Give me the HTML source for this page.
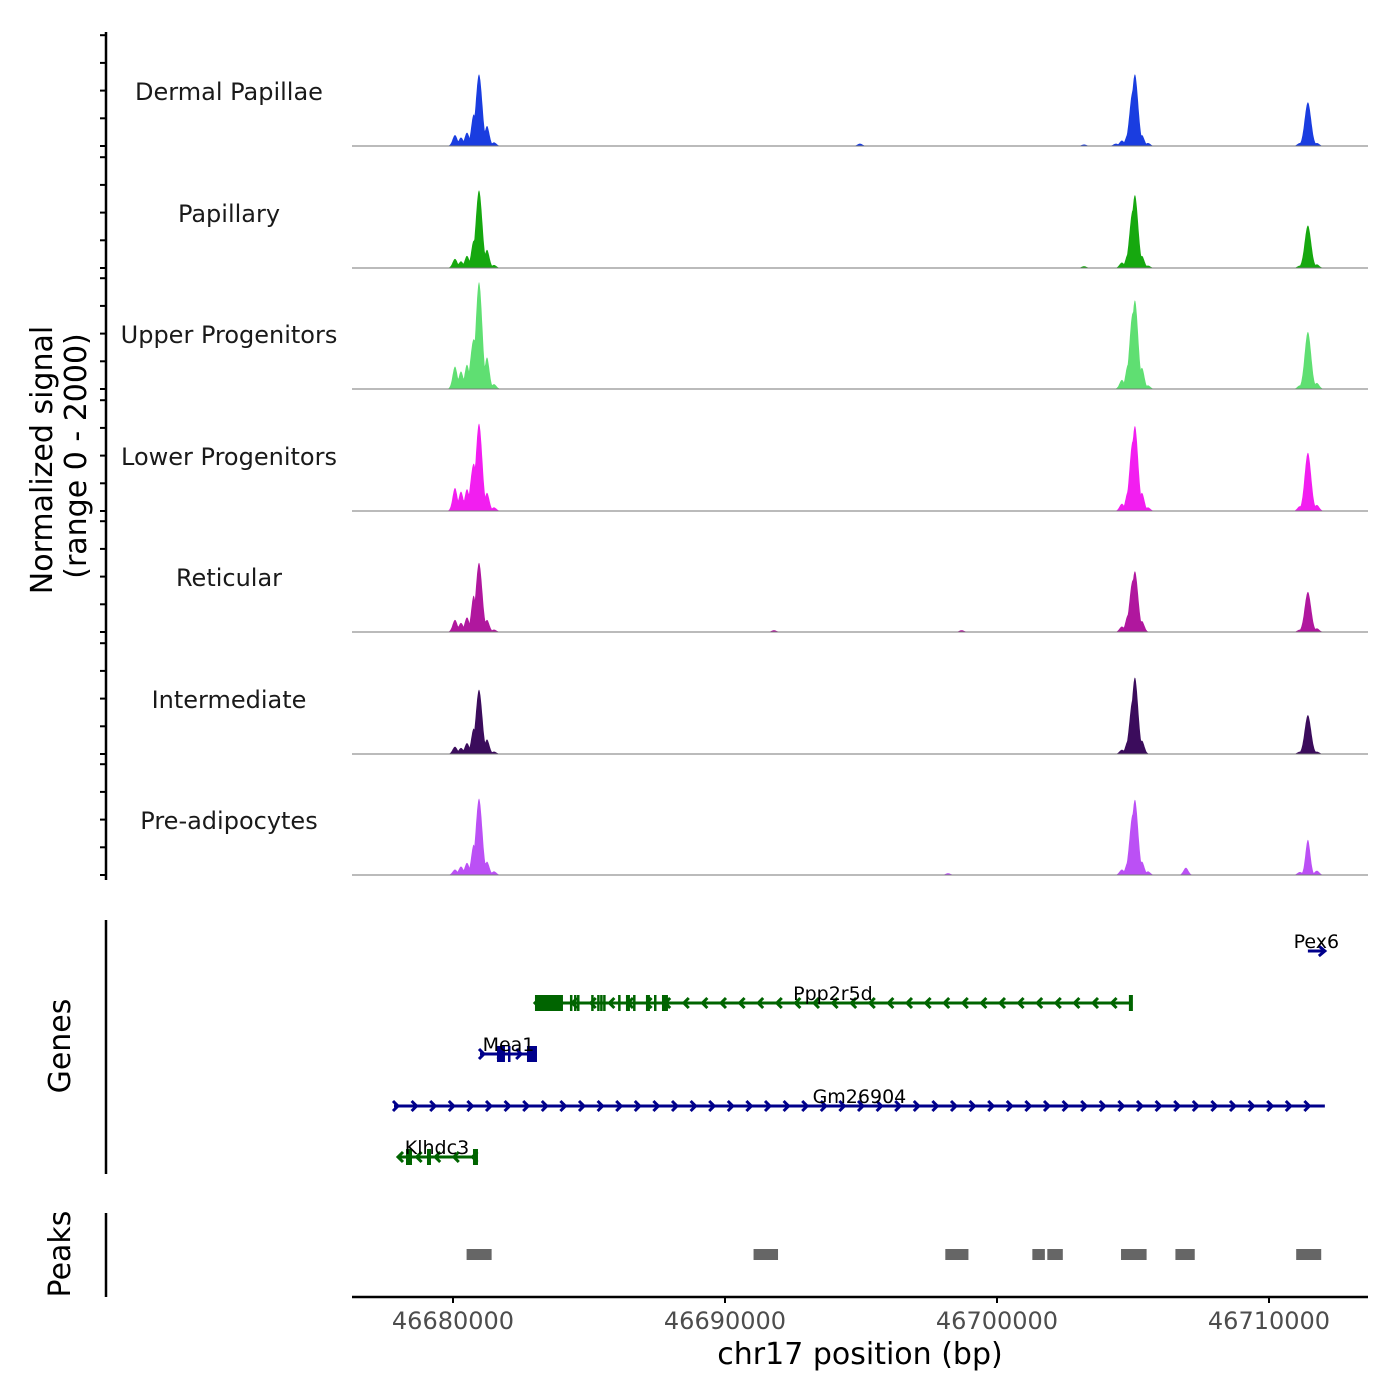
<!DOCTYPE html>
<html><head><meta charset="utf-8"><style>
html,body{margin:0;padding:0;background:#fff;}
svg{display:block;font-family:"DejaVu Sans","Liberation Sans",sans-serif;}
</style></head><body>
<svg id="chart" width="1400" height="1400" viewBox="0 0 1400 1400" xmlns="http://www.w3.org/2000/svg">
<g id="tracks"></g>
<g id="genes"></g>
<g id="peaks"></g>
<g id="axes"></g>
</svg>
<script>
// ---- data ----
const trackNames = ["Dermal Papillae","Papillary","Upper Progenitors","Lower Progenitors","Reticular","Intermediate","Pre-adipocytes"];
const trackColors = ["#1a3de0","#16a80f","#5fdf72","#f21ef0","#b0179e","#3b0c5c","#bb50f5"];
// spikes: [position bp, normalized signal]
const dermalPapillae = [[46680074,180],[46680294,140],[46680515,220],[46680760,520],[46680956,1180],[46681250,330],[46681507,60],[46694961,40],[46703200,25],[46704372,40],[46704593,90],[46704813,200],[46704990,900],[46705070,1180],[46705328,180],[46705548,50],[46711136,50],[46711430,720],[46711760,50]];
const papillary = [[46680074,150],[46680294,110],[46680515,200],[46680760,450],[46680956,1280],[46681250,300],[46681507,50],[46703200,30],[46704593,90],[46704813,230],[46704990,950],[46705070,1200],[46705328,200],[46705548,40],[46711136,40],[46711430,700],[46711760,60]];
const upperProgenitors = [[46680074,370],[46680294,290],[46680515,400],[46680760,820],[46680956,1760],[46681250,520],[46681507,80],[46704593,150],[46704813,400],[46704990,1250],[46705070,1460],[46705328,350],[46705548,60],[46711136,60],[46711430,940],[46711760,100]];
const lowerProgenitors = [[46680074,380],[46680294,320],[46680515,360],[46680760,780],[46680956,1440],[46681250,300],[46681507,60],[46704593,120],[46704813,320],[46704990,1150],[46705070,1400],[46705328,300],[46705548,60],[46711136,80],[46711430,960],[46711760,100]];
const reticular = [[46680074,200],[46680294,150],[46680515,240],[46680760,600],[46680956,1140],[46681250,200],[46681507,40],[46691800,30],[46698700,30],[46704593,90],[46704813,280],[46704990,850],[46705070,1000],[46705328,180],[46711136,40],[46711430,660],[46711760,60]];
const intermediate = [[46680074,120],[46680294,100],[46680515,180],[46680760,420],[46680956,1060],[46681250,240],[46681507,40],[46704593,70],[46704813,220],[46704990,900],[46705070,1260],[46705328,220],[46711136,40],[46711430,640],[46711760,40]];
const preAdipocytes = [[46680074,90],[46680294,140],[46680515,200],[46680760,500],[46680956,1260],[46681250,220],[46681507,60],[46698200,30],[46704593,90],[46704813,220],[46704990,1000],[46705070,1240],[46705328,220],[46705548,60],[46706945,120],[46711136,50],[46711430,580],[46711760,70]];
const trackData = [dermalPapillae,papillary,upperProgenitors,lowerProgenitors,reticular,intermediate,preAdipocytes];
const xTicks = [46680000,46690000,46700000,46710000];
const xTickLabels = ["46680000","46690000","46700000","46710000"];
const peakStarts = [46680500,46691050,46698100,46701300,46701850,46704560,46706560,46711000];
const peakEnds   = [46681420,46691950,46698950,46701760,46702420,46705500,46707270,46711920];
// genes
const geneNames = ["Pex6","Ppp2r5d","Mea1","Gm26904","Klhdc3"];
const geneStarts = [46711430,46683014,46680992,46677831,46677978];
const geneEnds = [46712054,46704923,46683088,46712054,46680845];
const geneStrand = [1,-1,1,1,-1];
const geneRows = [0,1,2,3,4];
const geneExons = [
  [],
  [[46683014,46684043],[46684300,46684370],[46684450,46684520],[46684560,46684630],[46685080,46685140],[46685300,46685360],[46685410,46685470],[46685520,46685580],[46686070,46686140],[46686359,46686506],[46686620,46686690],[46687094,46687241],[46687390,46687460],[46687683,46687903]],
  [[46681617,46681911],[46682022,46682095],[46682720,46683088]],
  [],
  [[46678272,46678493],[46679044,46679191],[46680735,46680845]]
];
const geneColors = {"1":"#00008b","-1":"#006400"};

// ---- scales ----
const X0=352, X1=1368, BP0=46676287, BP1=46713640;
function xs(bp){return X0+(bp-BP0)/(BP1-BP0)*(X1-X0);}
const baselines=[146,268,389,511,632,754,875];
const TH=121.5;
function ys(v,i){return baselines[i]-v/2000*TH;}
const NS="http://www.w3.org/2000/svg";
function mk(tag,attrs,parent){const e=document.createElementNS(NS,tag);for(const k in attrs)e.setAttribute(k,attrs[k]);parent.appendChild(e);return e;}

const gT=document.getElementById('tracks');
trackData.forEach((spikes,i)=>{
  const g=mk('g',{},gT);
  
  
  const step=20, pts=[];
  for(let bp=BP0;bp<=46712300;bp+=step){
    let v=5;
    spikes.forEach(([c,h])=>{const sig=h>600?120:90;const d=(bp-c)/sig;v=Math.max(v,h*Math.exp(-0.5*d*d));});
    pts.push([xs(bp),ys(v,i)]);
  }
  let d='M'+X0+','+baselines[i];
  pts.forEach(p=>{d+='L'+p[0].toFixed(1)+','+p[1].toFixed(1);});
  d+='L'+pts[pts.length-1][0].toFixed(1)+','+baselines[i]+'Z';
  const area=mk('path',{d:d,fill:trackColors[i]},g);
  
  
  const bl=mk('line',{x1:X0,x2:X1,y1:baselines[i],y2:baselines[i],stroke:'#777','stroke-width':1},g);
  
  
  const t=mk('text',{x:229,y:baselines[i]-46,'text-anchor':'middle','font-size':24,fill:'#1a1a1a'},g);
  t.textContent=trackNames[i];
  
  
});

// genes
const gG=document.getElementById('genes');
const rowY=[951,1003,1054,1106,1157];
geneNames.forEach((n,i)=>{
  const g=mk('g',{},gG);
  
  
  const col=geneColors[String(geneStrand[i])], y=rowY[geneRows[i]];
  const xa=xs(geneStarts[i]), xb=xs(geneEnds[i]);
  mk('line',{x1:xa,x2:xb,y1:y,y2:y,stroke:col,'stroke-width':3},g);
  const sp=18.6, s=geneStrand[i];
  if(n!=='Pex6'){
    for(let x=xa+2;x<=xb-1;x+=sp){
      mk('polyline',{points:`${x-3*s},${y-5} ${x+2*s},${y} ${x-3*s},${y+5}`,fill:'none',stroke:col,'stroke-width':3},g);
    }
  }
  geneExons[i].forEach(([a,b])=>{
    const ex=mk('rect',{x:xs(a),y:y-8,width:Math.max(2.5,xs(b)-xs(a)),height:16,fill:col},g);
    
    
  });
  if(s<0){mk('rect',{x:xb-2,y:y-8,width:4,height:16,fill:col},g);}
  if(n==='Pex6'){mk('polyline',{points:`${xb-6},${y-5} ${xb},${y} ${xb-6},${y+5}`,fill:'none',stroke:col,'stroke-width':3},g);}
  const t=mk('text',{x:(xa+xb)/2,y:y-3,'text-anchor':'middle','font-size':19,fill:'#000'},g);
  t.textContent=n;
  
  
});

// peaks
const gP=document.getElementById('peaks');
peakStarts.forEach((st,i)=>{
  const r=mk('rect',{x:xs(st),y:1249,width:xs(peakEnds[i])-xs(st),height:11,fill:'#666'},gP);
  
  
});

// axes
const gA=document.getElementById('axes');
function line(x1,y1,x2,y2,w,name){const l=mk('line',{x1,y1,x2,y2,stroke:'#000','stroke-width':w},gA);return l;}
line(106,32,106,880,2.5,'y-axis-line');
baselines.forEach(b=>{for(let k=0;k<5;k++){line(100,b-k*27.7,106,b-k*27.7,2,'y-tick');}});
line(106,920,106,1174,2.5,'genes-axis-line');
line(106,1213,106,1297,2.5,'peaks-axis-line');
line(352,1297,1368,1297,2.5,'x-axis-line');
xTicks.forEach((t,i)=>{
  line(xs(t),1297,xs(t),1303,2,'x-tick');
  const tx=mk('text',{x:xs(t),y:1329,'text-anchor':'middle','font-size':24,fill:'#4d4d4d'},gA);
  tx.textContent=xTickLabels[i];
  
  
});
function txt(s,x,y,size,rot,name){const t=mk('text',{x,y,'text-anchor':'middle','font-size':size,fill:'#000',transform:rot?`rotate(-90 ${x} ${y})`:''},gA);t.textContent=s;return t;}
txt('chr17 position (bp)',860,1364,30,false,'x-axis-title');
txt('Normalized signal',52,460,30,true,'y-axis-title');
txt('(range 0 - 2000)',86,456,30,true,'y-axis-subtitle');
txt('Genes',70,1046,30,true,'genes-title');
txt('Peaks',70,1254,30,true,'peaks-title');
</script>
</body></html>
